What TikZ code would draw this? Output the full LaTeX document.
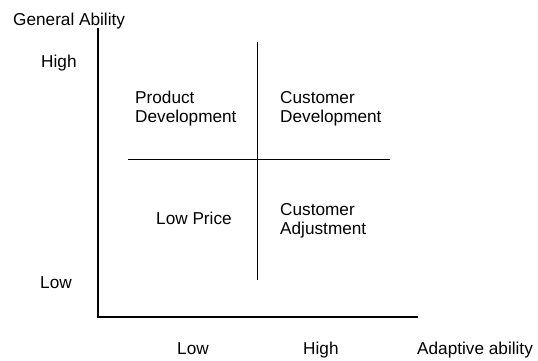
\documentclass[tikz,border=0pt]{standalone}
\usepackage{fontspec}
\setmainfont{Liberation Sans}
\begin{document}
\begin{tikzpicture}[x=1pt,y=-1pt,
  lbl/.style={inner sep=0pt,anchor=base west,font=\fontsize{17.2}{18.7}\selectfont,align=left},
  axis/.style={line width=2.6pt},
  divider/.style={line width=1pt}]
\useasboundingbox (0,0) rectangle (538,360);
% axes
\coordinate (ytop) at (98,28);
\coordinate (orig) at (98,317);
\coordinate (xend) at (418,317);
\draw[axis] (ytop) -- (orig) -- (xend);
% dividers
\coordinate (vtop) at (257,42);
\coordinate (vbot) at (257,280);
\coordinate (hl) at (128,159);
\coordinate (hr) at (390,159);
\draw[divider] (vtop) -- (vbot);
\draw[divider] (hl) -- (hr);
% labels
\node[lbl] (ga) at (13,25) {General Ability};
\node[lbl] (yhigh) at (41,67) {High};
\node[lbl] (ylow) at (40,288) {Low};
\node[lbl] (pd) at (135,122) {Product\\Development};
\node[lbl] (cd) at (280,122) {Customer\\Development};
\node[lbl] (lp) at (156,224) {Low Price};
\node[lbl] (ca) at (280,234) {Customer\\Adjustment};
\node[lbl] (xlow) at (177,354) {Low};
\node[lbl] (xhigh) at (303,354) {High};
\node[lbl] (aa) at (417,354) {Adaptive ability};
\end{tikzpicture}
\end{document}
